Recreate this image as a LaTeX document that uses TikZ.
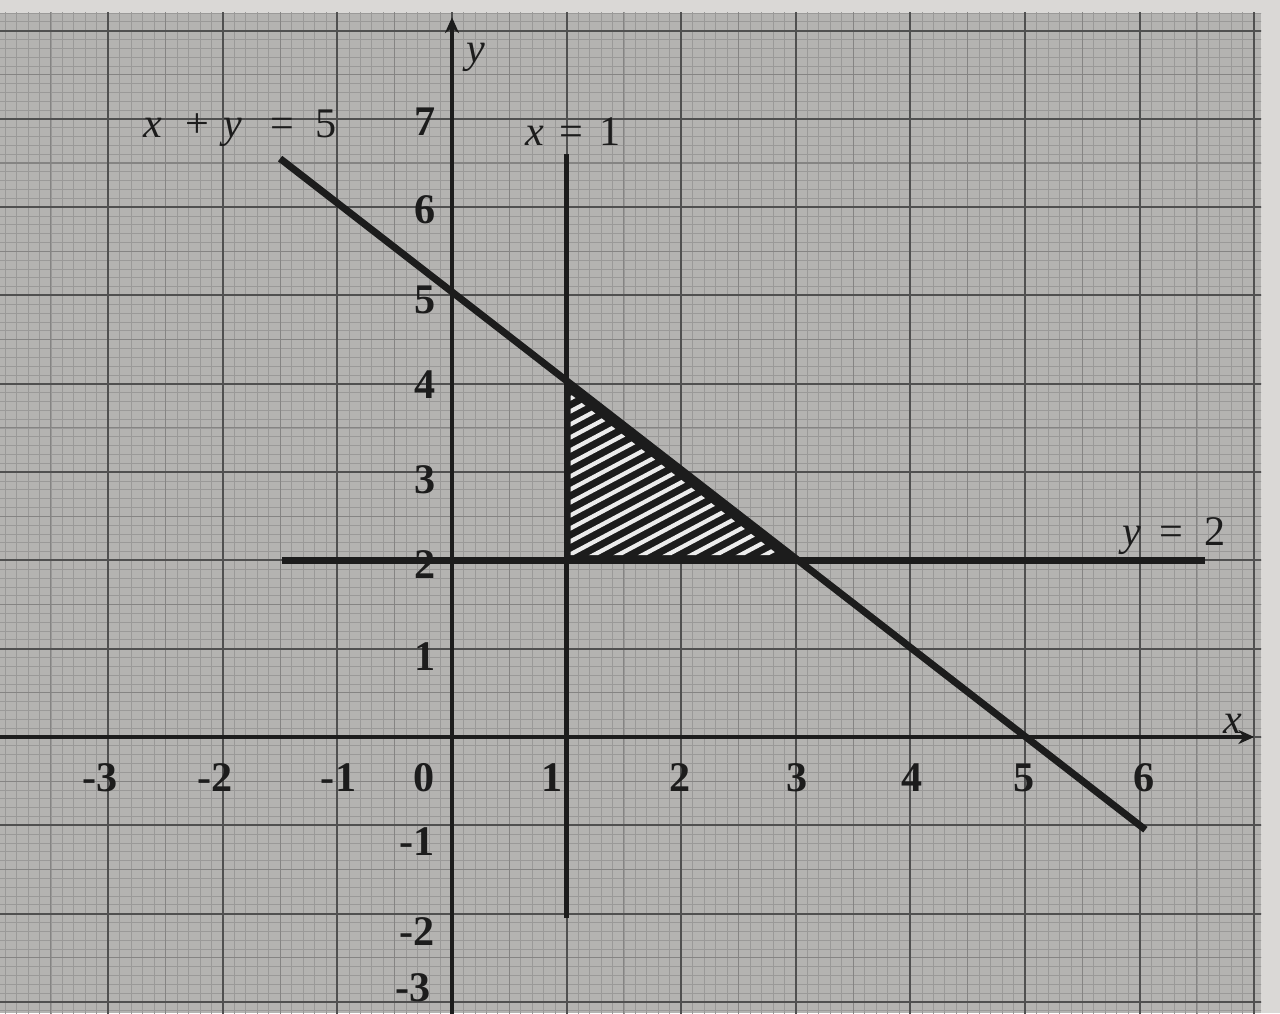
\documentclass[tikz,border=0pt]{standalone}
\usepackage{fontspec}
\setmainfont{Liberation Serif}
\usetikzlibrary{arrows.meta}
\definecolor{paper}{HTML}{B4B3B1}
\definecolor{margin}{HTML}{DAD8D6}
\definecolor{ink}{HTML}{1C1C1C}
\definecolor{fine}{HTML}{9A9998}
\definecolor{half}{HTML}{858483}
\definecolor{major}{HTML}{505050}
\tikzset{
  num/.style={font=\fontsize{24}{24}\selectfont\bfseries, text=ink, inner sep=0pt},
  lbl/.style={font=\fontsize{24}{24}\selectfont, text=ink, inner sep=0pt, anchor=base},
  graphline/.style={draw=ink, line width=4pt},
  vline/.style={draw=ink, line width=2.8pt},
  axisline/.style={draw=ink, line width=2.2pt},
  stripe/.style={draw=white!85!gray, line width=2.4pt},
  finegrid/.style={draw=fine, line width=0.4pt},
  halfgrid/.style={draw=half, line width=0.6pt},
  majorgrid/.style={draw=major, line width=1.1pt},
}
\begin{document}
\begin{tikzpicture}[x=2.292cm, y=1.766cm]
\useasboundingbox (-3.944,-3.126) rectangle (7.225,8.346);
\clip (-3.944,-3.126) rectangle (7.225,8.346);
\fill[margin] (-3.944,-3.126) rectangle (7.225,8.346);
\fill[paper] (-3.944,-3.126) rectangle (7.06,8.2);
% graph paper
\begin{scope}
  \clip (-3.944,-3.126) rectangle (7.06,8.2);
  \foreach \i in {-40,...,71} \draw[finegrid] (\i/10,-3.2) -- (\i/10,8.3);
  \foreach \j in {-32,...,83} \draw[finegrid] (-4,\j/10) -- (7.3,\j/10);
  \foreach \i in {-3.5,-2.5,...,6.6} \draw[halfgrid] (\i,-3.2) -- (\i,8.3);
  \foreach \j in {-2.5,-1.5,...,8.1} \draw[halfgrid] (-4,\j) -- (7.3,\j);
  \foreach \i in {-3,...,7} \draw[majorgrid] (\i,-3.2) -- (\i,8.3);
  \foreach \j in {-3,...,8} \draw[majorgrid] (-4,\j) -- (7.3,\j);
\end{scope}
% shaded region
\coordinate (P) at (1,2);
\coordinate (Q) at (1,4);
\coordinate (R) at (3,2);
\fill[ink] (P) -- (Q) -- (R) -- cycle;
\begin{scope}
  \clip (1.035,2.06) -- (1.035,3.88) -- (2.85,2.06) -- cycle;
  \foreach \k in {0,...,30} {
    \pgfmathsetmacro\b{-3.2+0.26*\k}
    \draw[stripe] (P) ++(-0.3cm,\b cm) -- ++(28:7cm);
  }
\end{scope}
% lines
\coordinate (xa) at (-4,0);
\coordinate (xb) at (7.0,0);
\coordinate (ya) at (0,-3.2);
\coordinate (yb) at (0,8.15);
\draw[axisline, -{Stealth[length=9pt,width=8pt]}] (xa) -- (xb);
\draw[axisline, -{Stealth[length=9pt,width=8pt]}] (ya) -- (yb);
\coordinate (v1) at (1,-2.05);
\coordinate (v2) at (1,6.6);
\draw[vline] (v1) -- (v2);
\coordinate (h1) at (-1.48,2);
\coordinate (h2) at (6.57,2);
\draw[graphline] (h1) -- (h2);
\coordinate (d1) at (-1.5,6.55);
\coordinate (d2) at (6.05,-1.05);
\draw[graphline] (d1) -- (d2);
% axis names
\node[lbl] (xname) at (6.81,0.045) {\textit{x}};
\node[lbl] (yname) at (0.21,7.64) {\textit{y}};
% equation labels
\node[lbl] (eqA) at (-1.846,6.79) {\textit{x}\hspace{0.45cm}+\hspace{0.29cm}\textit{y}\hspace{0.57cm}=\hspace{0.43cm}5};
\node[lbl] (eqB) at (1.056,6.70) {\textit{x}\hspace{0.31cm}=\hspace{0.31cm}1};
\node[lbl] (eqC) at (6.30,2.17) {\textit{y}\hspace{0.37cm}=\hspace{0.41cm}2};
% x tick labels
\node[num] (xm3) at (-3.07,-0.464) {-3};
\node[num] (xm2) at (-2.07,-0.464) {-2};
\node[num] (xm1) at (-0.99,-0.464) {-1};
\node[num] (x0) at (-0.24,-0.464) {0};
\node[num] (x1) at (0.87,-0.464) {1};
\node[num] (x2) at (1.99,-0.464) {2};
\node[num] (x3) at (3.01,-0.464) {3};
\node[num] (x4) at (4.01,-0.464) {4};
\node[num] (x5) at (4.99,-0.464) {5};
\node[num] (x6) at (6.04,-0.464) {6};
% y tick labels
\node[num] (y1) at (-0.236,0.906) {1};
\node[num] (y2) at (-0.236,1.948) {2};
\node[num] (y3) at (-0.236,2.91) {3};
\node[num] (y4) at (-0.236,3.99) {4};
\node[num] (y5) at (-0.236,4.95) {5};
\node[num] (y6) at (-0.236,5.97) {6};
\node[num] (y7) at (-0.236,6.965) {7};
\node[num] (ym1) at (-0.305,-1.19) {-1};
\node[num] (ym2) at (-0.305,-2.20) {-2};
\node[num] (ym3) at (-0.34,-2.84) {-3};
\end{tikzpicture}
\end{document}
